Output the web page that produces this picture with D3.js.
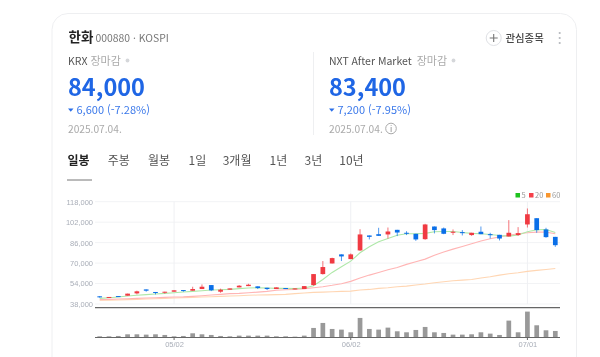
<!DOCTYPE html>
<html lang="ko">
<head>
<meta charset="UTF-8" />
<title>한화 000880 일봉</title>
<script src="https://d3js.org/d3.v7.min.js"></script>
<style>
  html, body { margin: 0; background: #fff; overflow: hidden; }
  svg { display: block; font-family: "Noto Sans CJK KR", "Noto Sans", sans-serif; filter: blur(0.3px); }
  .axis text { font-size: 7.5px; fill: #a9aeb8; }
  .axis path, .axis line { display: none; }
  .tab { font-size: 12px; fill: #555; }
</style>
</head>
<body>
<div id="chart"></div>
<script>
const dates = ["04/21","04/22","04/23","04/24","04/25","04/28","04/29","04/30","05/02","05/07",
  "05/08","05/09","05/12","05/13","05/14","05/15","05/16","05/19","05/20","05/21",
  "05/22","05/23","05/26","05/27","05/28","05/29","05/30","06/02","06/04","06/05",
  "06/09","06/10","06/11","06/12","06/13","06/16","06/17","06/18","06/19","06/20",
  "06/23","06/24","06/25","06/26","06/27","06/30","07/01","07/02","07/03","07/04"];

const opens = [44000,42900,44200,44500,46300,49400,47400,46800,47600,48900,
  48400,49700,52800,47600,49200,51000,52000,51800,50700,49700,
  50500,49400,49700,52800,61400,69700,76800,73100,79900,91600,
  92600,92400,96000,93700,92900,88700,98600,97100,93700,94200,
  91900,94500,92600,92100,90800,91900,100200,105100,96300,90500];
const closes = [43500,43500,43700,46100,47900,48400,46800,47600,48700,48400,
  49700,51500,48700,49200,50200,52300,53100,50500,49700,51000,
  49700,50200,52000,61400,66900,73900,75200,76800,92400,90500,
  91300,94700,93900,93200,88500,100200,95800,92900,94500,93400,
  93700,92600,92100,89200,93700,93400,108200,95800,90300,84000];
const highs = [44200,43500,44200,46100,48400,49400,47400,47600,48700,48900,
  51500,53300,52800,50000,50200,52800,53800,51800,50700,51000,
  50500,50200,52000,61400,71600,74200,76800,77500,96500,91600,
  97600,97800,96000,94900,92900,100700,98600,97800,96300,95800,
  93700,98600,93700,92100,103600,98100,112700,105100,97600,90500];
const lows = [42900,42900,43700,44500,45500,47600,45500,46100,47600,47600,
  48400,49700,48100,46800,49200,51000,52000,49700,48900,49700,
  49700,49400,49700,52300,61000,69700,71600,73100,79400,88500,
  91300,89200,91100,91900,87400,88200,93200,92600,91900,91600,
  91300,92600,89200,87700,90800,91300,97800,93700,89800,82700];

const ma5 = [42400,42900,43500,44200,44800,45300,45800,46300,46800,47400,
  47900,48400,48900,49200,49400,50000,50500,50700,50500,50200,
  50200,50000,50500,52300,57200,62700,67100,71500,78100,82700,
  86600,89200,91800,92900,92900,93200,94500,94700,94700,93900,
  93200,92900,92400,91600,91100,91900,94500,96000,96300,93900];
const ma20 = [41400,41600,41900,42100,42400,42700,42900,43200,43500,43600,
  44000,44500,45000,45500,46100,46300,46800,47300,47900,48700,
  49200,49400,50000,50700,51500,52600,53900,55700,58300,60600,
  62700,64800,66600,69000,71000,73100,76200,78600,80900,83000,
  85100,87200,89000,90500,91800,92900,93700,94200,94200,92900];
const ma60 = [40900,41000,41100,41400,41600,41900,42100,42400,42700,42900,
  43200,43500,43700,44000,44200,44500,44800,45000,45100,45300,
  45500,46100,46600,47100,47300,47600,47900,48100,48900,49400,
  50200,50700,51500,52000,52800,53600,54600,55400,56200,56700,
  57200,58300,59300,60600,61700,62400,63500,64300,65000,65800];
const volumes = [300,300,400,900,900,800,900,700,300,400,
  1200,900,700,400,300,500,500,500,500,300,
  300,200,500,2800,4300,2500,2300,1500,5800,2500,
  2300,2900,1800,1500,2200,3100,1500,1300,800,800,
  900,1500,1100,700,5000,1500,7700,3600,2100,1900];

const yTicks = [38000,54000,70000,86000,102000,118000];
const xTicks = ["05/02","06/02","07/01"];
const tabs = [["일봉",67.5],["주봉",107.7],["월봉",148],["1일",188.5],["3개월",222.7],["1년",269.5],["3년",304.5],["10년",339.3]];
const legendItems = [["5","#1ec21e",515.5],["20","#f5404a",529],["60","#f8962e",546]];

const red = "#f03a42", blue = "#0a6fe8";

const svg = d3.select("#chart").append("svg").attr("width", 600).attr("height", 357);

// card
svg.append("rect").attr("x", 52).attr("y", 13.5).attr("width", 524.5).attr("height", 380).attr("rx", 16)
  .attr("fill", "#fff").attr("stroke", "#eeeff1");

function label(x, y, str, size, fill, weight) {
  return svg.append("text").attr("x", x).attr("y", y).text(str)
    .attr("font-size", size).attr("fill", fill).attr("font-weight", weight || 400);
}

// header
label(68.5, 41.5, "한화", 13.5, "#222", 700);
label(95.5, 41.5, "000880 · KOSPI", 10.4, "#777");

svg.append("circle").attr("cx", 493.7).attr("cy", 38).attr("r", 7.5).attr("fill", "#fff").attr("stroke", "#dfe1e5");
svg.append("path").attr("d", "M489.7 38H497.7M493.7 34V42").attr("stroke", "#777").attr("stroke-width", 1.1);
label(505.5, 41.5, "관심종목", 10.4, "#444", 500);
svg.selectAll(".kebab").data([33, 38, 43]).enter().append("circle").attr("class", "kebab")
  .attr("cx", 559.7).attr("cy", d => d).attr("r", 1.1).attr("fill", "#b5b8bd");

// quote blocks
function quote(x, market, nameX, price, change, date) {
  label(x, 65, market, 10.5, "#555");
  label(nameX, 65, "장마감", 11, "#aaa");
  label(x, 96, price, 23.5, "#1f66e5", 600);
  svg.append("path").attr("d", `M${x} 108.5h5.5l-2.75 3.2z`).attr("fill", "#2a6ee8");
  label(x + 8.5, 114, change, 11, "#3a78ea");
  label(x, 132.5, date, 10.2, "#aaa");
}
quote(68, "KRX", 90.5, "84,000", "6,600 (-7.28%)", "2025.07.04.");
quote(329, "NXT After Market", 416.7, "83,400", "7,200 (-7.95%)", "2025.07.04.");
svg.selectAll(".dot").data([127.5, 453.5]).enter().append("circle").attr("class", "dot")
  .attr("cx", d => d).attr("cy", 60.5).attr("r", 1.9).attr("fill", "#d5d7da");
svg.append("line").attr("x1", 313.5).attr("x2", 313.5).attr("y1", 52).attr("y2", 135).attr("stroke", "#eeeff1");
svg.append("circle").attr("cx", 391).attr("cy", 128.5).attr("r", 5.3).attr("fill", "none").attr("stroke", "#aaa");
label(391, 131.5, "i", 8, "#888").attr("text-anchor", "middle");

// tabs
svg.selectAll(".tab").data(tabs).enter().append("text").attr("class", "tab")
  .attr("x", d => d[1]).attr("y", 165).text(d => d[0])
  .attr("font-weight", (d, i) => i === 0 ? 700 : 400)
  .style("fill", (d, i) => i === 0 ? "#222" : "#555");
svg.append("line").attr("x1", 67).attr("x2", 92).attr("y1", 180).attr("y2", 180).attr("stroke", "#777");

// scales
const x = d3.scalePoint().domain(dates).range([99.7, 555.3]);
const y = d3.scaleLinear().domain([38000, 118000]).range([304, 201.7]);
const v = d3.scaleLinear().domain([0, 7700]).range([337.3, 311.6]);

// grid
svg.selectAll(".hgrid").data(yTicks).enter().append("line").attr("class", "hgrid")
  .attr("x1", 95).attr("x2", 560).attr("y1", d => y(d)).attr("y2", d => y(d)).attr("stroke", "#f2f3f5");
svg.selectAll(".vgrid").data(xTicks).enter().append("line").attr("class", "vgrid")
  .attr("x1", d => x(d)).attr("x2", d => x(d)).attr("y1", 201.7).attr("y2", 304).attr("stroke", "#eff0f3");

svg.append("g").attr("class", "axis").attr("transform", "translate(96,0)")
  .call(d3.axisLeft(y).tickValues(yTicks).tickFormat(d3.format(",")).tickSize(0).tickPadding(3));
svg.append("g").attr("class", "axis").attr("transform", "translate(0,339.5)")
  .call(d3.axisBottom(x).tickValues(xTicks).tickSize(0).tickPadding(2));

// moving averages
const line = d3.line().x((d, i) => x(dates[i])).y(d => y(d));
[[ma60, "#ffd6b3"], [ma20, "#ffb5b5"], [ma5, "#aee8a8"]].forEach(s => {
  svg.append("path").attr("d", line(s[0])).attr("fill", "none").attr("stroke", s[1]).attr("stroke-width", 1.1);
});

// candles
const candles = svg.append("g").selectAll("g").data(dates).enter().append("g");
const col = (d, i) => closes[i] >= opens[i] ? red : blue;
candles.append("line")
  .attr("x1", d => x(d)).attr("x2", d => x(d))
  .attr("y1", (d, i) => y(highs[i])).attr("y2", (d, i) => y(lows[i]))
  .attr("stroke", col).attr("stroke-opacity", 0.7);
candles.append("rect")
  .attr("x", d => x(d) - 2.35).attr("width", 4.7)
  .attr("y", (d, i) => y(Math.max(opens[i], closes[i])))
  .attr("height", (d, i) => Math.max(1, Math.abs(y(opens[i]) - y(closes[i]))))
  .attr("fill", col);

// volume
svg.append("g").selectAll("rect").data(dates).enter().append("rect")
  .attr("x", d => x(d) - 2.35).attr("width", 4.7)
  .attr("y", (d, i) => v(volumes[i]))
  .attr("height", (d, i) => v(0) - v(volumes[i]))
  .attr("fill", "#999");

// panel lines
svg.append("line").attr("x1", 95).attr("x2", 560).attr("y1", 307.7).attr("y2", 307.7).attr("stroke", "#666").attr("stroke-width", 1.3);
svg.append("line").attr("x1", 95).attr("x2", 560).attr("y1", 337.5).attr("y2", 337.5).attr("stroke", "#666").attr("stroke-width", 1);
svg.selectAll(".xtick").data(xTicks).enter().append("line").attr("class", "xtick")
  .attr("x1", d => x(d)).attr("x2", d => x(d)).attr("y1", 337.5).attr("y2", 340).attr("stroke", "#666");

// legend
const lg = svg.append("g").selectAll("g").data(legendItems).enter().append("g");
lg.append("rect").attr("x", d => d[2]).attr("y", 193).attr("width", 4.5).attr("height", 4.5).attr("fill", d => d[1]);
lg.append("text").attr("x", d => d[2] + 6).attr("y", 198).text(d => d[0]).attr("font-size", 7.5).attr("fill", "#999");
</script>
</body>
</html>
